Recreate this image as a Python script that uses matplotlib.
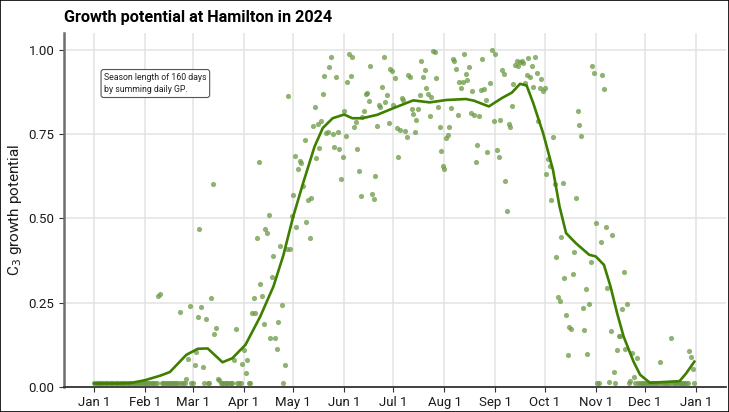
import matplotlib
matplotlib.use("Agg")
import matplotlib.pyplot as plt
from matplotlib.patches import Rectangle

plt.rcParams['font.family'] = ['Roboto', 'DejaVu Sans']

# daily growth potential, day of year (0 = Jan 1) and GP value
floor_days = [0, 1, 2, 3, 4, 5, 6, 7, 8, 9, 10, 11, 12, 13, 14, 15, 16, 17, 18, 19,
              20, 21, 22, 23, 24, 25, 26, 27, 28, 29, 30, 31, 32, 33, 34, 35, 36, 37, 38,
              41, 42, 43, 44, 45, 46, 47, 48, 49, 50, 51, 53, 54, 55, 59, 60, 67, 69, 70,
              77, 78, 79, 80, 81, 82, 83, 84, 87, 88, 89, 94, 95, 115, 306, 307, 317, 325,
              329, 331, 332, 333, 334, 335, 336, 337, 338, 339, 340, 341, 342, 343, 345,
              346, 347, 348, 349, 350, 352, 353, 354, 355, 356, 357, 358, 359, 360, 361, 365]
floor_gp = 0.01

days = [39, 40, 52, 56, 57, 58, 61, 62, 63, 64, 65, 66, 68, 71, 72, 73, 74, 75, 76,
        85, 86, 90, 91, 92, 93, 96, 97, 98, 99, 100, 101, 102, 103, 104, 105, 106, 107,
        108, 109, 110, 111, 112, 113, 114, 116, 117, 118, 119, 120, 121, 122, 123, 124,
        125, 126, 127, 128, 129, 130, 131, 132, 133, 134, 135, 136, 137, 138, 139, 140,
        141, 142, 143, 144, 145, 146, 147, 148, 149, 150, 151, 152, 153, 154, 155, 156,
        157, 158, 159, 160, 161, 162, 163, 164, 165, 166, 167, 168, 169, 170, 171, 172,
        173, 174, 175, 176, 177, 178, 179, 180, 181, 182, 183, 184, 185, 186, 187, 188,
        189, 190, 191, 192, 193, 194, 195, 196, 197, 198, 199, 200, 201, 202, 203, 204,
        205, 206, 207, 208, 209, 210, 211, 212, 213, 214, 215, 216, 217, 218, 219, 220,
        221, 222, 223, 224, 225, 226, 227, 228, 229, 230, 231, 232, 233, 234, 235, 236,
        237, 238, 239, 241, 242, 243, 244, 245, 246, 247, 248, 249, 250, 251, 252, 253,
        254, 255, 256, 257, 258, 259, 260, 261, 262, 263, 264, 265, 266, 267, 268, 269,
        270, 271, 272, 273, 274, 275, 276, 277, 278, 279, 280, 281, 282, 283, 284, 285,
        286, 287, 288, 289, 290, 291, 292, 293, 294, 295, 296, 297, 298, 299, 300, 301,
        302, 303, 304, 305, 308, 309, 310, 311, 312, 313, 314, 315, 316, 318, 319, 320,
        321, 322, 323, 324, 326, 327, 328, 330, 344, 351, 362, 363, 364]
gp = [0.271, 0.276, 0.223, 0.023, 0.082, 0.241, 0.064, 0.103, 0.206, 0.468, 0.236, 0.058,
      0.202, 0.263, 0.602, 0.157, 0.176, 0.023, 0.019,
      0.080, 0.173, 0.069, 0.108, 0.042, 0.081, 0.220, 0.263, 0.220, 0.443, 0.668, 0.305,
      0.271, 0.187, 0.468, 0.456, 0.510, 0.144,
      0.327, 0.387, 0.146, 0.113, 0.191, 0.417, 0.242, 0.065, 0.408, 0.864, 0.408, 0.507,
      0.570, 0.686, 0.473, 0.647,
      0.671, 0.664, 0.596, 0.733, 0.490, 0.555, 0.441, 0.560, 0.774, 0.830, 0.680, 0.781,
      0.708, 0.790, 0.869, 0.921,
      0.753, 0.755, 0.948, 0.980, 0.750, 0.713, 0.918, 0.755, 0.706, 0.617, 0.683, 0.819,
      0.745, 0.904, 0.988, 0.923,
      0.980, 0.772, 0.785, 0.705, 0.639, 0.567, 0.802, 0.819, 0.869, 0.871, 0.847, 0.951,
      0.573, 0.558, 0.627, 0.775,
      0.837, 0.830, 0.889, 0.980, 0.844, 0.866, 0.782, 0.943, 0.936, 0.837, 0.916, 0.768,
      0.683, 0.761, 0.858, 0.852,
      0.760, 0.740, 0.924, 0.919, 0.825, 0.810, 0.756, 0.792, 0.825, 0.866, 0.967, 0.918,
      0.941, 0.886, 0.869, 0.805,
      0.860, 0.997, 0.993, 0.916, 0.830, 0.771, 0.701, 0.654, 0.646, 0.738, 0.746, 0.770,
      0.827, 0.972, 0.967, 0.944,
      0.807, 0.904, 0.886, 0.904, 0.988, 0.928, 0.909, 0.949, 0.812, 0.879, 0.807, 0.666,
      0.718, 0.805, 0.881, 0.972,
      0.884, 0.852, 0.698, 0.901, 0.998, 0.789, 0.988, 0.703, 0.683, 0.792, 0.941, 0.929,
      0.612, 0.522, 0.780, 0.771,
      0.834, 0.898, 0.955, 0.967, 0.953, 0.963, 0.968, 0.960, 0.901, 0.924, 0.977, 0.918,
      0.951, 0.889, 0.980, 0.931,
      0.790, 0.888, 0.914, 0.878, 0.888, 0.631, 0.677, 0.654, 0.553, 0.741, 0.601, 0.384,
      0.266, 0.256, 0.446, 0.606,
      0.324, 0.214, 0.095, 0.177, 0.171, 0.334, 0.400, 0.560, 0.817, 0.777, 0.745, 0.233,
      0.169, 0.290, 0.097, 0.246,
      0.371, 0.953, 0.931, 0.486, 0.431, 0.926, 0.884, 0.474, 0.293, 0.014, 0.166, 0.451,
      0.045, 0.110, 0.151, 0.151,
      0.231, 0.340, 0.112, 0.246, 0.018, 0.100, 0.028, 0.085, 0.075, 0.145, 0.106, 0.090,
      0.052]

# smoothed growth potential
line_day = [0, 14, 22, 31, 40, 46, 56, 63, 69, 78, 84, 92, 101, 109, 115, 121, 127, 134,
            139, 145, 152, 157, 163, 172, 182, 194, 204, 214, 226, 231, 240, 248, 254, 259,
            263, 267, 273, 279, 283, 287, 293, 301, 305, 310, 314, 318, 322, 328, 332, 338,
            356, 360, 365]
line_gp = [0.010, 0.010, 0.011, 0.020, 0.033, 0.044, 0.095, 0.113, 0.114, 0.073, 0.085,
           0.125, 0.209, 0.298, 0.390, 0.505, 0.604, 0.713, 0.768, 0.797, 0.808, 0.797,
           0.797, 0.807, 0.827, 0.850, 0.844, 0.851, 0.854, 0.849, 0.832, 0.857, 0.873,
           0.899, 0.894, 0.842, 0.753, 0.644, 0.535, 0.456, 0.426, 0.392, 0.387, 0.362,
           0.298, 0.219, 0.149, 0.075, 0.036, 0.012, 0.017, 0.040, 0.075]

month_days = [0, 31, 60, 91, 121, 152, 182, 213, 244, 274, 305, 335, 366]
month_labels = ['Jan 1', 'Feb 1', 'Mar 1', 'Apr 1', 'May 1', 'Jun 1', 'Jul 1',
                'Aug 1', 'Sep 1', 'Oct 1', 'Nov 1', 'Dec 1', 'Jan 1']
season_days = 160

line_green = '#3f7f00'
point_green = '#6b9a45'

fig = plt.figure(figsize=(7.29, 4.12), dpi=100)
ax = fig.add_axes([0.088, 0.061, 0.908, 0.859])

ax.scatter(floor_days, [floor_gp] * len(floor_days), s=14, color=point_green, alpha=0.75,
           linewidths=0, zorder=3)
ax.scatter(days, gp, s=14, color=point_green, alpha=0.75, linewidths=0, zorder=3)
ax.plot(line_day, line_gp, color=line_green, lw=1.9, zorder=4)

ax.set_xlim(-18.3, 384.3)
ax.set_ylim(0, 1.05)
ax.set_xticks(month_days)
ax.set_xticklabels(month_labels)
ax.set_yticks([0, 0.25, 0.5, 0.75, 1.0])
ax.set_yticklabels(['0.00', '0.25', '0.50', '0.75', '1.00'])
ax.grid(True, color='#e3e3e3', lw=1.1)
ax.set_axisbelow(True)

for side in ['top', 'right']:
    ax.spines[side].set_visible(False)
ax.spines['left'].set_color('#6e6e6e')
ax.spines['left'].set_linewidth(1.8)
ax.spines['bottom'].set_color('#333333')
ax.spines['bottom'].set_linewidth(1.3)
ax.tick_params(axis='both', colors='#333333', labelsize=9.5, length=3.5, width=0.8,
               labelcolor='#1a1a1a')
ax.tick_params(axis='x', pad=3)

ax.set_ylabel('C$_3$ growth potential', fontsize=11, color='#1a1a1a')
ax.yaxis.set_label_coords(-0.060, 0.5)
ax.set_title('Growth potential at Hamilton in 2024', loc='left', fontsize=11.7,
             fontweight='bold', pad=8)

ax.text(6, 0.900, f'Season length of {season_days} days\nby summing daily GP.',
        fontsize=6.3, color='#222222', va='center', ha='left', linespacing=1.55,
        bbox=dict(boxstyle='round,pad=0.35,rounding_size=0.3', fc='white',
                  ec='#555555', lw=0.8))

fig.patches.append(Rectangle((0, 0), 1, 1, transform=fig.transFigure, fill=False,
                             ec='black', lw=1.2))

fig.savefig('out.png', dpi=100)
